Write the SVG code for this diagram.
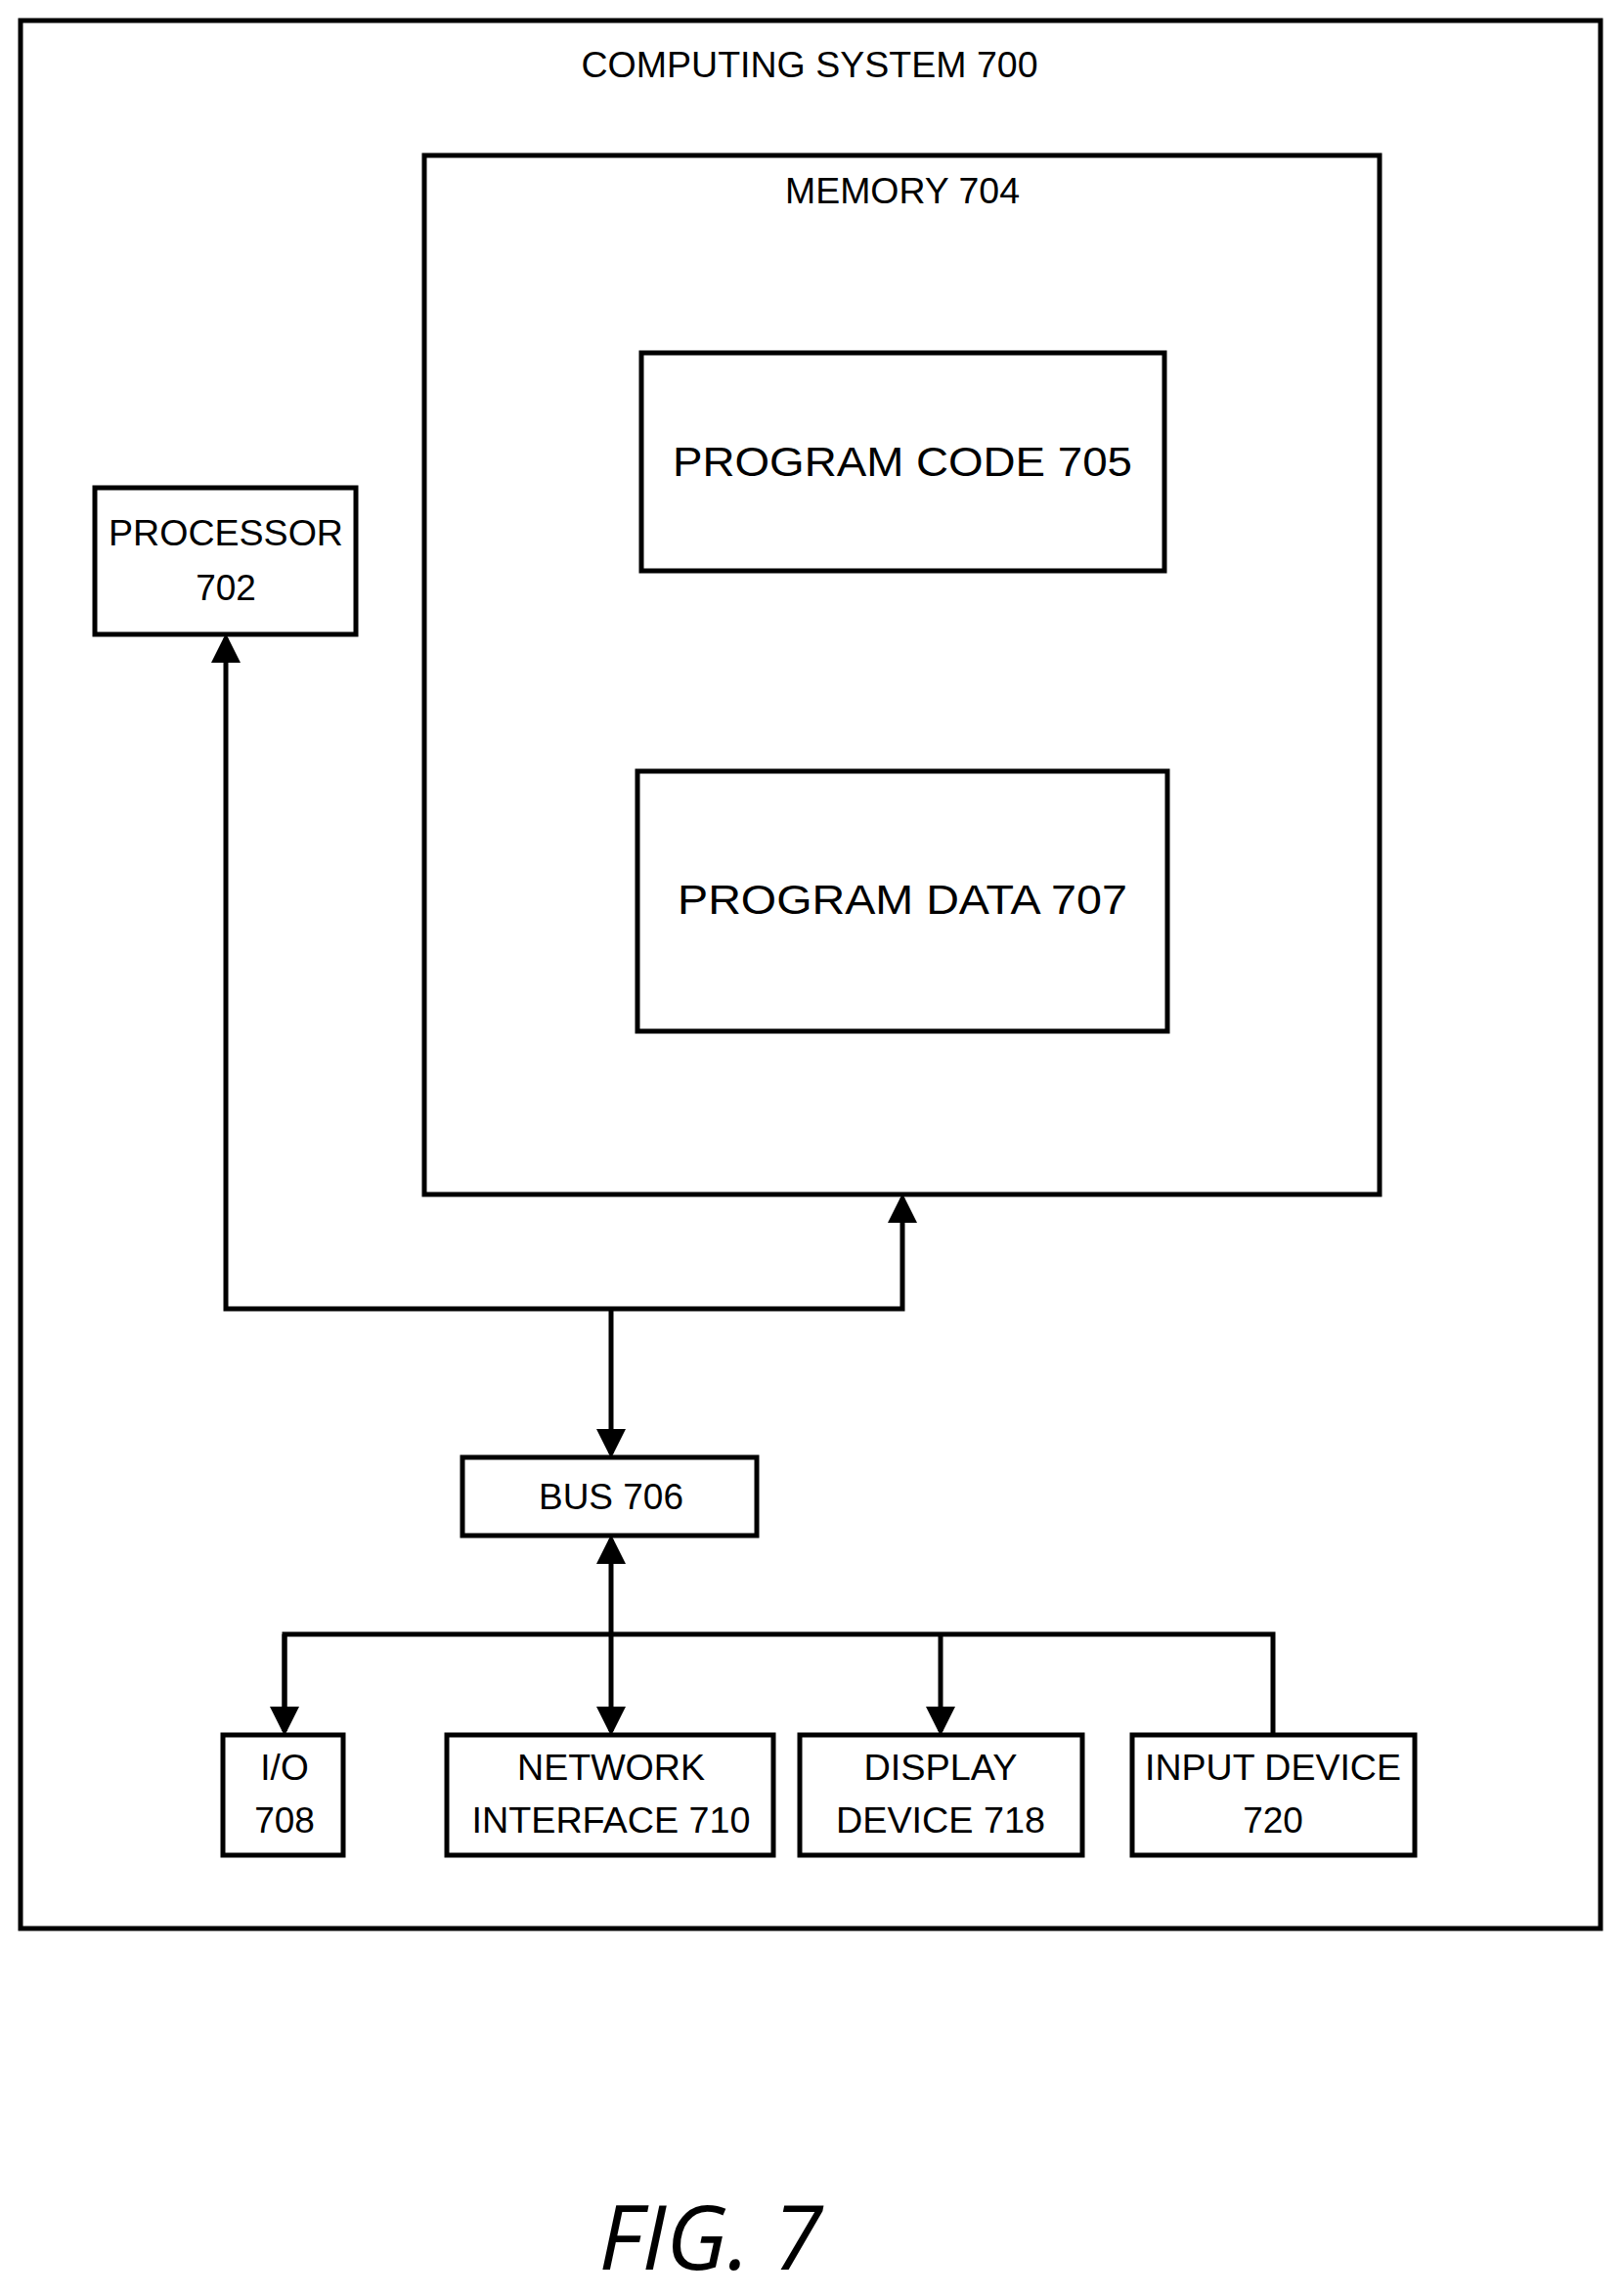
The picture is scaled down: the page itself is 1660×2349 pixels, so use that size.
<svg xmlns="http://www.w3.org/2000/svg" width="1660" height="2349" viewBox="0 0 1660 2349">
<style>
rect{fill:#fff;stroke:#000;stroke-width:5}
text{font-family:"Liberation Sans",Arial,sans-serif;font-size:37px;text-anchor:middle;fill:#000}
.big{font-size:42px}
.c line,.c polyline{stroke:#000;stroke-width:5;fill:none}
</style>
<defs><marker id="a" markerWidth="6" markerHeight="6" refX="5" refY="3" orient="auto"><path d="M0,0 L6,3 L0,6 Z" fill="#000"/></marker></defs>
<rect width="1660" height="2349" style="stroke:none"/>
<g id="system"><rect x="21" y="21" width="1616" height="1952"/><text x="828" y="79" textLength="467" lengthAdjust="spacingAndGlyphs">COMPUTING SYSTEM 700</text></g>
<g id="memory"><rect x="434" y="159" width="977" height="1063"/><text x="923" y="208" textLength="240" lengthAdjust="spacingAndGlyphs">MEMORY 704</text></g>
<g id="code"><rect x="656" y="361" width="535" height="223"/><text class="big" x="923" y="487" textLength="470" lengthAdjust="spacingAndGlyphs">PROGRAM CODE 705</text></g>
<g id="data"><rect x="652" y="789" width="542" height="266"/><text class="big" x="923" y="935" textLength="460" lengthAdjust="spacingAndGlyphs">PROGRAM DATA 707</text></g>
<g id="processor"><rect x="97" y="499" width="267" height="150"/><text x="231" y="558" textLength="240" lengthAdjust="spacingAndGlyphs">PROCESSOR</text><text x="231" y="614">702</text></g>
<g id="bus"><rect x="473" y="1491" width="301" height="80"/><text x="625" y="1544" textLength="148" lengthAdjust="spacingAndGlyphs">BUS 706</text></g>
<g id="io"><rect x="228" y="1775" width="123" height="123"/><text x="291" y="1821">I/O</text><text x="291" y="1875">708</text></g>
<g id="net"><rect x="457" y="1775" width="334" height="123"/><text x="625" y="1821" textLength="192" lengthAdjust="spacingAndGlyphs">NETWORK</text><text x="625" y="1875" textLength="285" lengthAdjust="spacingAndGlyphs">INTERFACE 710</text></g>
<g id="display"><rect x="818" y="1775" width="289" height="123"/><text x="962" y="1821" textLength="157" lengthAdjust="spacingAndGlyphs">DISPLAY</text><text x="962" y="1875" textLength="214" lengthAdjust="spacingAndGlyphs">DEVICE 718</text></g>
<g id="input"><rect x="1158" y="1775" width="289" height="123"/><text x="1302" y="1821" textLength="262" lengthAdjust="spacingAndGlyphs">INPUT DEVICE</text><text x="1302" y="1875">720</text></g>
<g class="c" id="connectors">
<polyline points="625,1339 231,1339 231,653" marker-end="url(#a)"/>
<polyline points="625,1339 923,1339 923,1226" marker-end="url(#a)"/>
<line x1="625" y1="1339" x2="625" y2="1487" marker-end="url(#a)"/>
<line x1="625" y1="1672" x2="625" y2="1575" marker-end="url(#a)"/>
<polyline points="291,1771 291,1672 1302,1672 1302,1775"/>
<line x1="291" y1="1672" x2="291" y2="1771" marker-end="url(#a)"/>
<line x1="625" y1="1672" x2="625" y2="1771" marker-end="url(#a)"/>
<line x1="962" y1="1672" x2="962" y2="1771" marker-end="url(#a)"/>
</g>
<text x="727" y="2322" style="font-family:'Open Sans',sans-serif;font-style:italic;font-size:92px">FIG. 7</text>
</svg>
